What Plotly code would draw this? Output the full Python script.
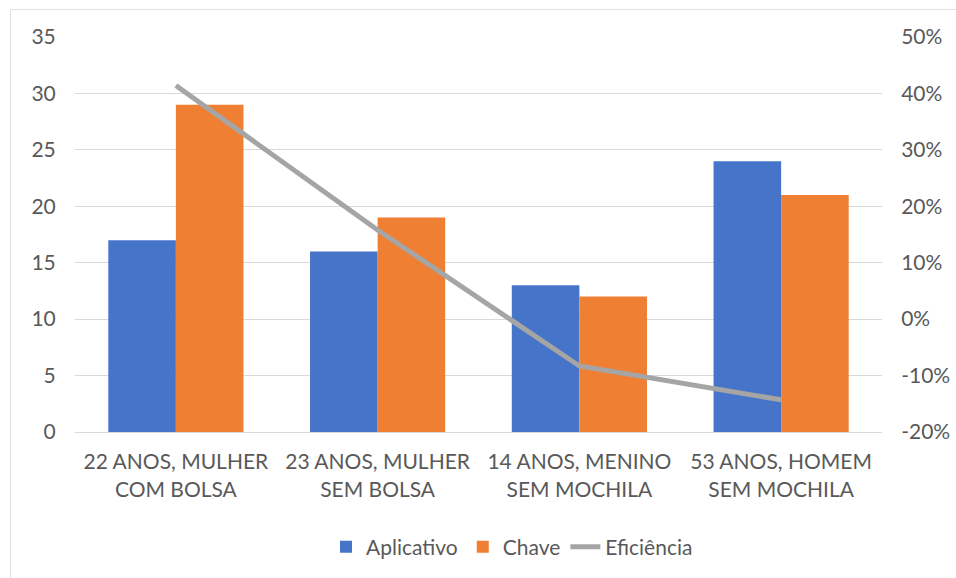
import plotly.graph_objects as go

categories = ["22 ANOS, MULHER<br>COM BOLSA", "23 ANOS, MULHER<br>SEM BOLSA",
              "14 ANOS, MENINO<br>SEM MOCHILA", "53 ANOS, HOMEM<br>SEM MOCHILA"]
aplicativo = [17, 16, 13, 24]
chave = [29, 19, 12, 21]
eficiencia = [0.414, 0.158, -0.083, -0.143]
left_ticks = [0, 5, 10, 15, 20, 25, 30, 35]
right_tickvals = [-0.2, -0.1, 0.0, 0.1, 0.2, 0.3, 0.4, 0.5]
right_ticktext = ["-20%", "-10%", "0%", "10%", "20%", "30%", "40%", "50%"]

W, H = 956, 578
ml, mr, mt, mb = 75, 74, 37, 146
pw, ph = W - ml - mr, H - mt - mb

def px_x(x):
    return (x - ml) / pw

def px_y(y):
    return (H - mb - y) / ph

FONT = "Lato"
TXT = "#595959"

fig = go.Figure()
fig.add_trace(go.Bar(x=categories, y=aplicativo, name="Aplicativo",
                     marker=dict(color="#4674C8", line=dict(width=0))))
fig.add_trace(go.Bar(x=categories, y=chave, name="Chave",
                     marker=dict(color="#EE7F33", line=dict(width=0))))
fig.add_trace(go.Scatter(x=categories, y=eficiencia, name="Eficiência", yaxis="y2",
                         mode="lines", line=dict(color="#A5A5A5", width=5)))

fig.update_layout(
    template="none",
    width=W, height=H,
    margin=dict(l=ml, r=mr, t=mt, b=mb, autoexpand=False),
    paper_bgcolor="white", plot_bgcolor="white",
    font=dict(family=FONT, size=21, color=TXT),
    barmode="group", bargap=0.33, bargroupgap=0,
    showlegend=True,
    legend=dict(orientation="h", x=px_x(512), xanchor="center",
                y=px_y(547), yanchor="middle",
                font=dict(family=FONT, size=21, color=TXT),
                itemwidth=30, traceorder="normal", bgcolor="rgba(0,0,0,0)"),
    xaxis=dict(automargin=False, showgrid=False, showline=True, linecolor="#D9D9D9", linewidth=1,
               ticks="outside", ticklen=11, tickcolor="rgba(0,0,0,0)", zeroline=False,
               tickfont=dict(family=FONT, size=21, color=TXT)),
    yaxis=dict(automargin=False, range=[0, 35], tickmode="array", tickvals=left_ticks,
               showgrid=True, gridcolor="#D9D9D9", gridwidth=1,
               zeroline=False, showline=False, ticks="outside", ticklen=14,
               tickcolor="rgba(0,0,0,0)",
               tickfont=dict(family=FONT, size=21, color=TXT)),
    yaxis2=dict(automargin=False, range=[-0.2, 0.5], tickmode="array", tickvals=right_tickvals,
                ticktext=right_ticktext, overlaying="y", side="right",
                showgrid=False, zeroline=False, showline=False, ticks="outside", ticklen=14,
                tickcolor="rgba(0,0,0,0)",
                tickfont=dict(family=FONT, size=21, color=TXT)),
    shapes=[dict(type="rect", xref="paper", yref="paper",
                 x0=px_x(10.5), x1=px_x(1000), y0=px_y(620), y1=px_y(9.5),
                 line=dict(color="#E3E3E3", width=1), fillcolor="rgba(0,0,0,0)",
                 layer="below")],
)

fig.write_html("out.html")
